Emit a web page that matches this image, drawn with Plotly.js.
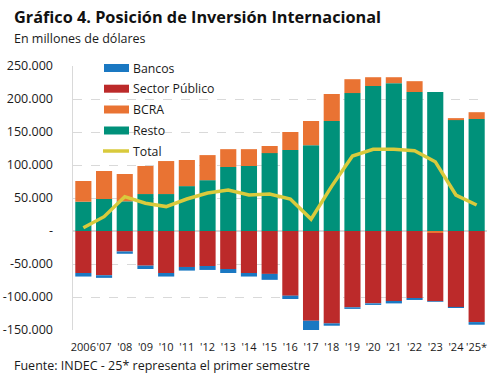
<!DOCTYPE html>
<html>
<head>
<meta charset="utf-8">
<script src="https://cdn.plot.ly/plotly-3.0.1.min.js"></script>
<style>html,body{margin:0;padding:0;background:#fff;}#chart{width:492px;height:379px;}</style>
</head>
<body>
<div id="chart"></div>
<script>
const years = ['2006', "'07", "'08", "'09", "'10", "'11", "'12", "'13", "'14", "'15", "'16", "'17", "'18", "'19", "'20", "'21", "'22", "'23", "'24", "'25*"];
const resto = [44400, 48500, 45000, 56000, 56000, 68000, 77000, 97000, 98500, 118000, 122700, 130000, 166700, 209000, 219700, 224000, 210600, 210600, 168000, 169700];
const bcra = [31400, 42400, 41400, 42500, 50000, 39600, 38000, 27000, 25500, 10800, 27300, 36700, 40900, 21000, 13300, 9000, 16400, -3000, 3000, 10300];
const sectorPublico = [-63600, -67000, -31000, -52500, -63600, -54500, -53000, -57600, -63600, -65000, -98000, -136000, -140000, -115600, -109600, -106000, -101500, -103500, -115000, -138000];
const bancos = [-5400, -4000, -3500, -5100, -5400, -5500, -6000, -6000, -5400, -9000, -5000, -15000, -3500, -2400, -2400, -3700, -3000, -1100, -1700, -4000];
const total = [5000, 21700, 52000, 42000, 37000, 48500, 57600, 62000, 54500, 56000, 48500, 18000, 68000, 113600, 123700, 123700, 121700, 105000, 54500, 39400];
const yTickVals = [-150000, -100000, -50000, 0, 50000, 100000, 150000, 200000, 250000];
const yTickText = ['-150.000', '-100.000', '-50.000', '-', '50.000', '100.000', '150.000', '200.000', '250.000'];

const C = {resto: '#00917A', bcra: '#E97333', sp: '#BC2A2A', bancos: '#1A78C2', total: '#D9CA3C', text: '#1a1a1a', grid: '#d9d9d9'};
const FONT = 'Open Sans, sans-serif';

// plot area in pixels
const L = 73, R = 487, T = 66, B = 330;
const px = x => (x - L) / (R - L);
const py = y => (B - y) / (B - T);

const traces = [
  {type: 'bar', name: 'Resto', x: years, y: resto, marker: {color: C.resto}, hoverinfo: 'none'},
  {type: 'bar', name: 'BCRA', x: years, y: bcra, marker: {color: C.bcra}, hoverinfo: 'none'},
  {type: 'bar', name: 'Sector Público', x: years, y: sectorPublico, marker: {color: C.sp}, hoverinfo: 'none'},
  {type: 'bar', name: 'Bancos', x: years, y: bancos, marker: {color: C.bancos}, hoverinfo: 'none'},
  {type: 'scatter', mode: 'lines', name: 'Total', x: years, y: total, line: {color: C.total, width: 3.5}, hoverinfo: 'none'}
];

const legendItems = [
  {name: 'Bancos', color: C.bancos, y: 68},
  {name: 'Sector Público', color: C.sp, y: 88.7},
  {name: 'BCRA', color: C.bcra, y: 109.5},
  {name: 'Resto', color: C.resto, y: 130.5},
  {name: 'Total', color: C.total, y: 151, line: true}
];

const shapes = [];
const annotations = [];
legendItems.forEach(it => {
  if (it.line) {
    shapes.push({type: 'line', xref: 'paper', yref: 'paper', x0: px(103), x1: px(129), y0: py(it.y), y1: py(it.y), line: {color: it.color, width: 3.5}});
  } else {
    shapes.push({type: 'rect', xref: 'paper', yref: 'paper', x0: px(104), x1: px(129), y0: py(it.y - 4), y1: py(it.y + 4), fillcolor: it.color, line: {width: 0}});
  }
  annotations.push({xref: 'paper', yref: 'paper', x: px(131), y: py(it.y), xanchor: 'left', yanchor: 'middle', showarrow: false, text: it.name, font: {family: FONT, size: 12.3, color: C.text}});
});

annotations.push({xref: 'paper', yref: 'paper', x: px(12), y: py(17), xanchor: 'left', yanchor: 'middle', showarrow: false,
  text: '<b>Gráfico 4. Posición de Inversión Internacional</b>', font: {family: FONT, size: 16.3, color: '#111'}});
annotations.push({xref: 'paper', yref: 'paper', x: px(12), y: py(38), xanchor: 'left', yanchor: 'middle', showarrow: false,
  text: 'En millones de dólares', font: {family: FONT, size: 12.5, color: C.text}});
annotations.push({xref: 'paper', yref: 'paper', x: px(12), y: py(365), xanchor: 'left', yanchor: 'middle', showarrow: false,
  text: 'Fuente: INDEC - 25* representa el primer semestre', font: {family: FONT, size: 12.5, color: C.text}});

const layout = {
  width: 492, height: 379,
  margin: {l: L, r: 492 - R, t: T, b: 379 - B, pad: 0},
  paper_bgcolor: '#fff', plot_bgcolor: '#fff',
  barmode: 'relative', bargap: 0.22,
  showlegend: false,
  font: {family: FONT, color: C.text},
  xaxis: {type: 'category', categoryorder: 'array', categoryarray: years, showgrid: false, showline: false, zeroline: false,
    ticks: '', tickangle: 0, tickfont: {family: FONT, size: 11, color: C.text}, ticklabelstandoff: 9, fixedrange: true},
  xaxis2: {overlaying: 'x', anchor: 'free', position: py(231), range: [-0.5, years.length - 0.5], tick0: 0.5, dtick: 1,
    ticks: 'outside', ticklen: 3, tickcolor: C.grid, tickwidth: 1, showticklabels: false, showgrid: false, showline: true,
    linecolor: C.grid, linewidth: 1.5, zeroline: false, fixedrange: true},
  yaxis: {range: [-150000, 250000], tickvals: yTickVals, ticktext: yTickText, showgrid: true, gridcolor: C.grid, griddash: 'dash', gridwidth: 1,
    zeroline: true, zerolinecolor: C.grid, zerolinewidth: 1.5, showline: true, linecolor: C.grid, linewidth: 1.5, ticks: '', ticklabelstandoff: 16,
    tickfont: {family: FONT, size: 12.5, color: C.text}, fixedrange: true},
  shapes: shapes,
  annotations: annotations
};

Plotly.newPlot('chart', traces, layout, {displayModeBar: false, staticPlot: true});
</script>
</body>
</html>
